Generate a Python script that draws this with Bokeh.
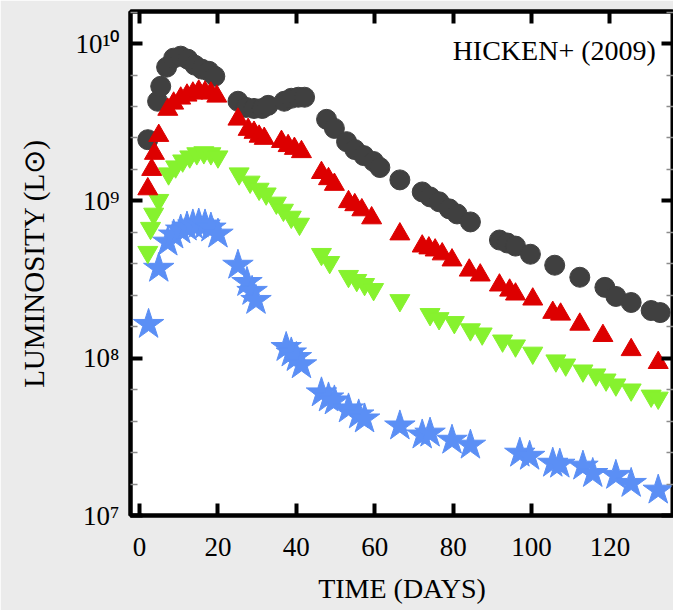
from bokeh.plotting import figure
from bokeh.models import Range1d, FixedTicker, LinearAxis, LogAxis, Label
from bokeh.embed import file_html
from bokeh.resources import INLINE

# ---------------- data ----------------
black_t = [2.1, 4.6, 5.4, 6.9, 8.7, 10.5, 12.3, 14.1, 15.9, 17.7, 19.2, 25.1, 27.2, 29.2, 31.3,
           32.8, 36.9, 38.7, 40.5, 42.1, 47.7, 49.7, 52.8, 54.9, 57.2, 59.7, 61.3, 66.4, 72.1,
           74.1, 76.4, 79.0, 81.0, 84.4, 91.8, 93.8, 95.9, 99.7, 105.9, 112.3, 118.7, 121.5,
           125.4, 130.5, 132.8]
black_L = [2.45e9, 4.30e9, 5.35e9, 7.08e9, 8.08e9, 8.32e9, 7.96e9, 7.29e9, 6.88e9, 6.67e9, 6.20e9,
           4.30e9, 3.93e9, 3.87e9, 3.87e9, 4.05e9, 4.30e9, 4.49e9, 4.56e9, 4.56e9, 3.30e9, 2.89e9,
           2.38e9, 2.12e9, 1.94e9, 1.78e9, 1.63e9, 1.36e9, 1.14e9, 1.06e9, 9.87e8, 8.90e8, 8.26e8,
           7.35e8, 5.64e8, 5.40e8, 5.16e8, 4.58e8, 3.90e8, 3.27e8, 2.82e8, 2.47e8, 2.26e8, 2.01e8,
           1.95e8]

red_t = [2.1, 3.1, 3.8, 4.9, 7.2, 8.7, 10.5, 12.1, 13.6, 15.1, 16.7, 18.2, 19.7, 25.1, 27.7, 29.2,
         30.5, 31.8, 36.2, 37.9, 39.5, 41.3, 46.4, 48.2, 49.7, 53.3, 54.9, 56.7, 59.2, 66.4, 72.1,
         73.8, 75.4, 77.2, 79.7, 84.1, 86.9, 91.8, 94.4, 95.9, 100.3, 105.4, 107.4, 112.3, 118.2,
         125.4, 132.3]
red_L = [1.19e9, 1.58e9, 2.00e9, 2.60e9, 3.81e9, 4.17e9, 4.49e9, 4.69e9, 4.83e9, 4.97e9, 4.90e9,
         4.83e9, 4.62e9, 3.30e9, 2.84e9, 2.72e9, 2.57e9, 2.49e9, 2.38e9, 2.24e9, 2.15e9, 2.05e9,
         1.51e9, 1.38e9, 1.27e9, 9.86e8, 9.43e8, 8.75e8, 7.78e8, 6.15e8, 5.15e8, 5.01e8, 4.86e8,
         4.59e8, 4.20e8, 3.62e8, 3.37e8, 2.91e8, 2.70e8, 2.55e8, 2.37e8, 1.95e8, 1.90e8, 1.64e8,
         1.39e8, 1.13e8, 9.36e7]

green_t = [2.1, 2.8, 3.6, 4.9, 7.4, 9.2, 11.0, 12.8, 14.6, 16.4, 18.2, 20.0, 25.4, 28.2, 30.5,
           32.3, 34.9, 36.7, 38.7, 40.8, 46.4, 48.5, 53.3, 55.4, 57.4, 59.7, 66.4, 74.1, 76.4,
           80.3, 84.4, 87.4, 92.6, 95.9, 100.3, 106.2, 108.7, 113.1, 116.4, 119.0, 121.5, 125.4,
           130.5, 132.3]
green_L = [4.72e8, 6.71e8, 8.26e8, 1.01e9, 1.49e9, 1.65e9, 1.80e9, 1.91e9, 2.00e9, 2.03e9, 2.00e9,
           1.91e9, 1.49e9, 1.32e9, 1.19e9, 1.11e9, 9.71e8, 8.75e8, 7.90e8, 7.13e8, 4.58e8, 4.07e8,
           3.32e8, 3.13e8, 2.95e8, 2.74e8, 2.33e8, 1.90e8, 1.79e8, 1.69e8, 1.52e8, 1.43e8, 1.29e8,
           1.20e8, 1.08e8, 9.64e7, 9.08e7, 8.32e7, 7.85e7, 7.29e7, 6.78e7, 6.30e7, 5.76e7, 5.59e7]

blue_t = [2.3, 4.9, 7.2, 8.7, 10.5, 12.1, 13.6, 15.1, 16.7, 18.2, 20.0, 25.1, 27.4, 28.7, 29.7,
          37.4, 38.7, 40.0, 41.3, 46.4, 48.2, 49.7, 53.3, 55.9, 57.4, 66.4, 72.1, 74.1, 79.7,
          84.4, 97.0, 99.5, 105.4, 107.2, 113.1, 115.6, 121.5, 125.4, 132.3]
blue_L = [1.64e8, 3.73e8, 5.47e8, 6.07e8, 6.53e8, 6.82e8, 7.03e8, 7.13e8, 7.03e8, 6.72e8, 6.15e8,
          3.90e8, 3.03e8, 2.66e8, 2.33e8, 1.17e8, 1.08e8, 1.01e8, 9.08e7, 6.02e7, 5.59e7, 5.35e7,
          4.76e7, 4.36e7, 4.11e7, 3.71e7, 3.25e7, 3.34e7, 3.01e7, 2.80e7, 2.49e7, 2.38e7, 2.15e7,
          2.12e7, 2.06e7, 1.85e7, 1.80e7, 1.60e7, 1.45e7]

x_ticks = [0, 20, 40, 60, 80, 100, 120]
y_ticks = [1e7, 1e8, 1e9, 1e10]
y_tick_labels = ["10\u2077", "10\u2078", "10\u2079", "10\u00b9\u2070"]
y_minor = [10 ** (e + k / 5) for e in range(7, 11) for k in range(1, 5)]

x_label = "TIME (DAYS)"
y_label = "LUMINOSITY (L\u2299)"
source_note = "HICKEN+ (2009)"

# ---------------- style ----------------
FONT = "Liberation Serif"
BG = "#ebebeb"

p = figure(width=673, height=610, y_axis_type="log",
           x_range=Range1d(-2.31, 136.2), y_range=Range1d(1e7, 10 ** 10.204),
           output_backend="svg", toolbar_location=None,
           min_border_left=130, min_border_top=11, min_border_bottom=95, min_border_right=0)

p.background_fill_color = "white"
p.border_fill_color = BG
p.outline_line_color = "black"
p.outline_line_width = 4
p.xgrid.visible = False
p.ygrid.visible = False

y_over = dict(zip(y_ticks, y_tick_labels))


def style_axis(ax, labels=True):
    ax.axis_line_color = "black"
    ax.axis_line_width = 4
    ax.major_tick_line_color = "black"
    ax.major_tick_line_width = 4
    ax.major_tick_in = 12
    ax.major_tick_out = 0
    ax.minor_tick_line_color = "#8c8c8c"
    ax.minor_tick_line_width = 1.5
    ax.minor_tick_in = 7
    ax.minor_tick_out = 0
    ax.major_label_text_font = FONT
    ax.major_label_text_font_size = "27px"
    ax.major_label_text_color = "black"
    ax.axis_label_text_font = FONT
    ax.axis_label_text_font_style = "normal"
    ax.axis_label_text_font_size = "28px"
    ax.axis_label_text_color = "black"
    if not labels:
        ax.major_label_text_font_size = "1px"
        ax.major_label_text_color = None
        ax.major_label_standoff = 0


xa = p.xaxis[0]
xa.ticker = FixedTicker(ticks=x_ticks, minor_ticks=[])
style_axis(xa)
xa.major_label_standoff = 22
xa.axis_label = x_label
xa.axis_label_standoff = 14

ya = p.yaxis[0]
ya.ticker = FixedTicker(ticks=y_ticks, minor_ticks=y_minor)
style_axis(ya)
ya.major_label_overrides = y_over
ya.major_label_standoff = 11
ya.axis_label = y_label
ya.axis_label_text_font_size = "29px"
ya.axis_label_standoff = 22

top = LinearAxis(ticker=FixedTicker(ticks=x_ticks, minor_ticks=[]))
style_axis(top, labels=False)
p.add_layout(top, "above")

right = LogAxis(ticker=FixedTicker(ticks=y_ticks, minor_ticks=y_minor))
style_axis(right, labels=False)
p.add_layout(right, "right")

# ---------------- data marks ----------------
p.scatter(black_t, black_L, marker="circle", size=20, fill_color="#404040", line_color="#404040")
p.scatter(blue_t, blue_L, marker="star", size=32, fill_color="#5b8ff5", line_color="#5b8ff5")
p.scatter(green_t, green_L, marker="inverted_triangle", size=20, fill_color="#86f22e", line_color="#86f22e")
p.scatter(red_t, red_L, marker="triangle", size=20, fill_color="#dd0000", line_color="#dd0000")

p.add_layout(Label(x=131.7, y=9.0e9, text=source_note, text_align="right", text_baseline="middle",
                   text_font=FONT, text_font_size="28px", text_color="black"))

open("out.html", "w").write(file_html(p, INLINE))
